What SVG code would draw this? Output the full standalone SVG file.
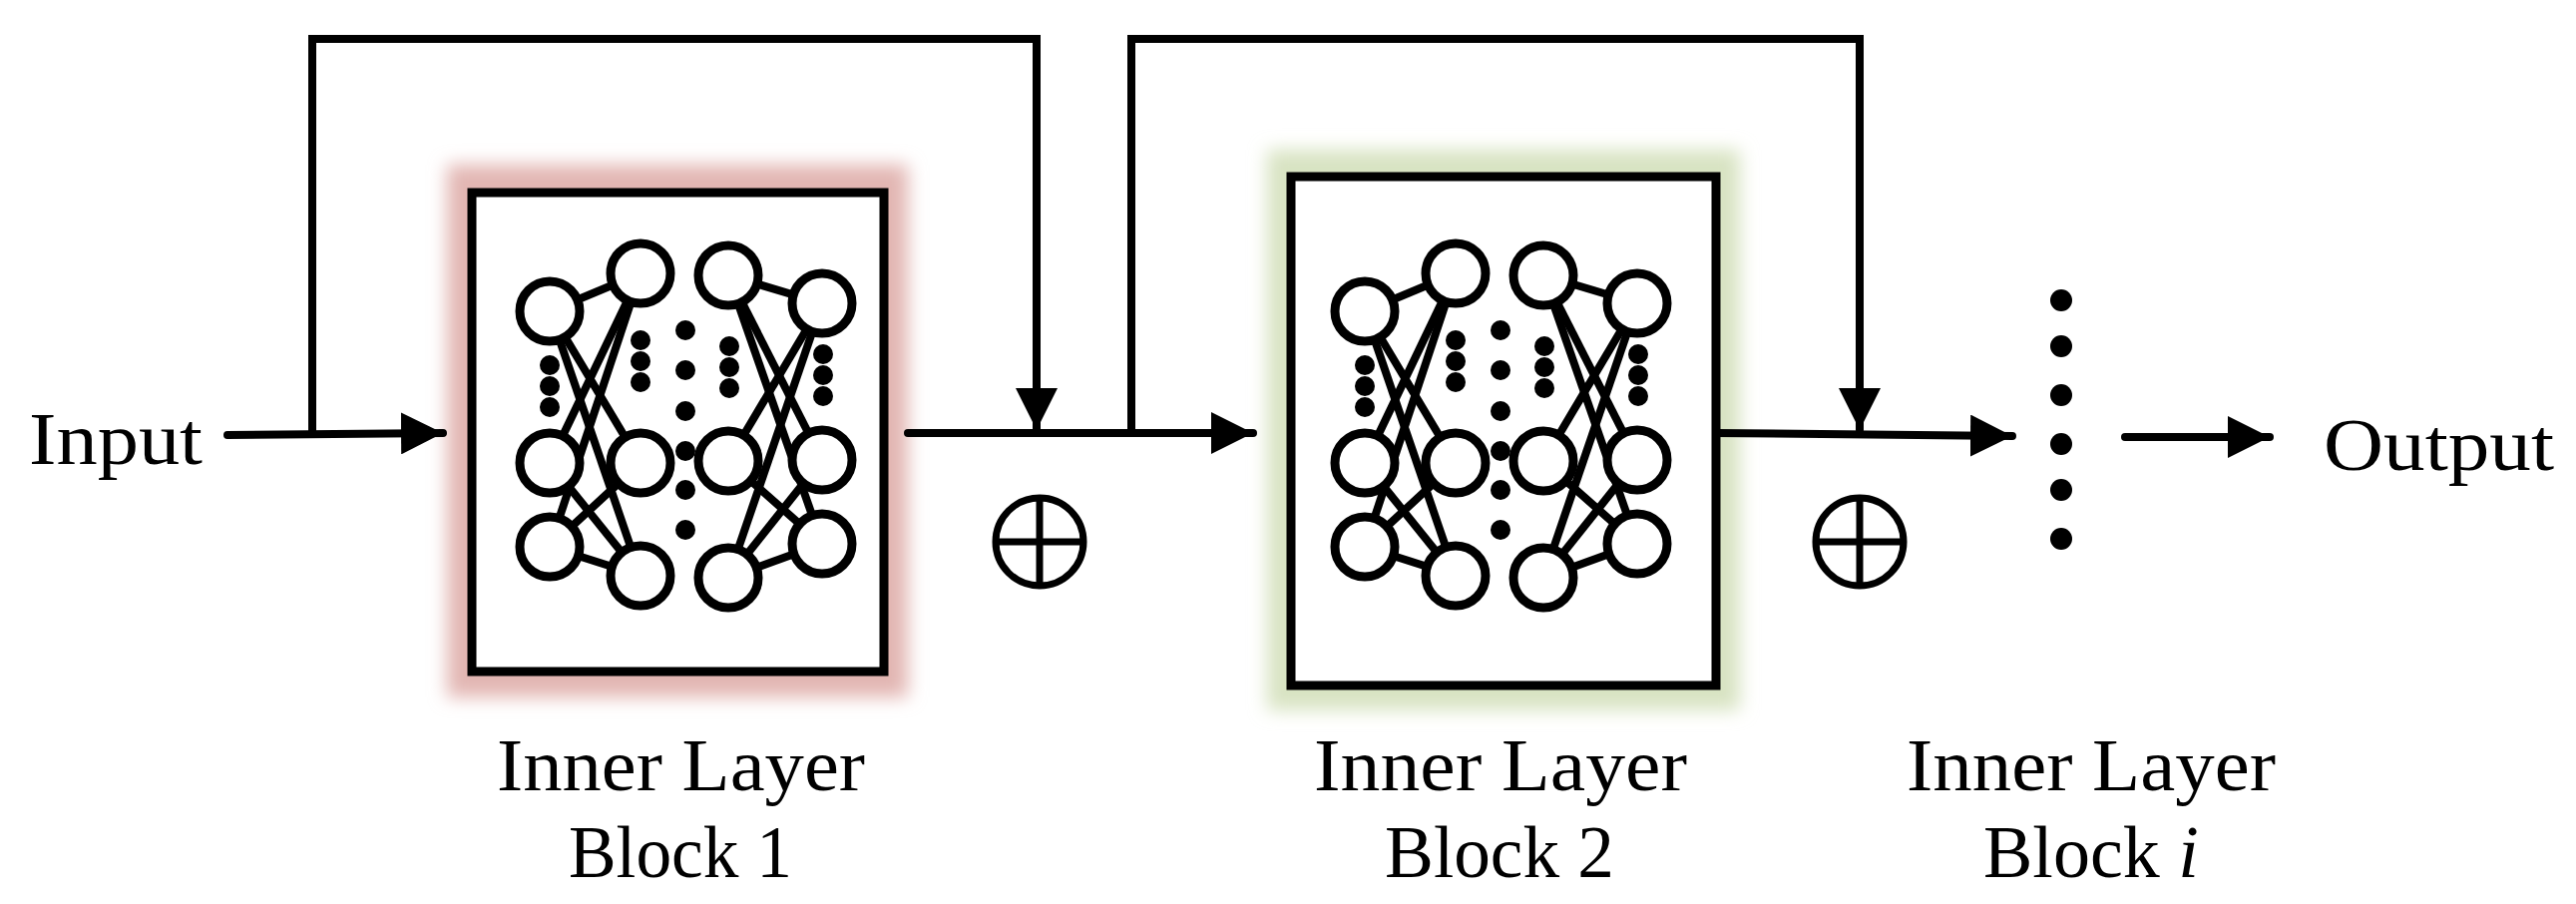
<svg xmlns="http://www.w3.org/2000/svg" xmlns:xlink="http://www.w3.org/1999/xlink" width="2582" height="906" viewBox="0 0 2582 906">
<style>
.ln{stroke:#000;stroke-width:8;fill:none;stroke-linecap:round}
.nl{stroke:#000;stroke-width:8;fill:none}
.nc{stroke:#000;stroke-width:9;fill:#fff}
.box{stroke:#000;stroke-width:9;fill:#fff}
.t{font-family:"Liberation Serif","Times New Roman",serif;font-size:74px;fill:#000}
</style>
<defs>
<filter id="blur" x="-20%" y="-20%" width="140%" height="140%"><feGaussianBlur stdDeviation="9"/></filter>
<marker id="ah" viewBox="0 0 10 10" refX="10" refY="5" markerWidth="42" markerHeight="42" markerUnits="userSpaceOnUse" orient="auto"><path d="M0,0 L10,5 L0,10 Z" fill="#000"/></marker>
<g id="net">
<line class="nl" x1="551" y1="312" x2="642" y2="274"/>
<line class="nl" x1="551" y1="312" x2="642" y2="577"/>
<line class="nl" x1="642" y1="274" x2="551" y2="548"/>
<line class="nl" x1="551" y1="548" x2="642" y2="577"/>
<line class="nl" x1="551" y1="312" x2="642" y2="464"/>
<line class="nl" x1="642" y1="274" x2="551" y2="464"/>
<line class="nl" x1="551" y1="464" x2="642" y2="577"/>
<line class="nl" x1="642" y1="464" x2="551" y2="548"/>
<line class="nl" x1="730" y1="276" x2="824" y2="304"/>
<line class="nl" x1="730" y1="276" x2="824" y2="545"/>
<line class="nl" x1="824" y1="304" x2="730" y2="579"/>
<line class="nl" x1="730" y1="579" x2="824" y2="545"/>
<line class="nl" x1="730" y1="276" x2="824" y2="461"/>
<line class="nl" x1="824" y1="304" x2="730" y2="462"/>
<line class="nl" x1="730" y1="462" x2="824" y2="545"/>
<line class="nl" x1="824" y1="461" x2="730" y2="579"/>
<g fill="#000">
<circle cx="551" cy="366" r="10"/><circle cx="551" cy="387" r="10"/><circle cx="551" cy="408" r="10"/>
<circle cx="642" cy="341" r="10"/><circle cx="642" cy="362" r="10"/><circle cx="642" cy="383" r="10"/>
<circle cx="687" cy="331" r="10"/><circle cx="687" cy="371" r="10"/><circle cx="687" cy="412" r="10"/><circle cx="687" cy="452" r="10"/><circle cx="687" cy="491" r="10"/><circle cx="687" cy="531" r="10"/>
<circle cx="731" cy="347" r="10"/><circle cx="731" cy="368" r="10"/><circle cx="731" cy="389" r="10"/>
<circle cx="825" cy="355" r="10"/><circle cx="825" cy="376" r="10"/><circle cx="825" cy="397" r="10"/>
</g>
<circle class="nc" cx="551" cy="312" r="30"/><circle class="nc" cx="551" cy="464" r="30"/><circle class="nc" cx="551" cy="548" r="30"/>
<circle class="nc" cx="642" cy="274" r="30"/><circle class="nc" cx="642" cy="464" r="30"/><circle class="nc" cx="642" cy="577" r="30"/>
<circle class="nc" cx="730" cy="276" r="30"/><circle class="nc" cx="730" cy="462" r="30"/><circle class="nc" cx="730" cy="579" r="30"/>
<circle class="nc" cx="824" cy="304" r="30"/><circle class="nc" cx="824" cy="461" r="30"/><circle class="nc" cx="824" cy="545" r="30"/>
</g>
<g id="oplus"><circle r="44" fill="#fff" stroke="#000" stroke-width="7"/><line x1="-44" y1="0" x2="44" y2="0" stroke="#000" stroke-width="7"/><line x1="0" y1="-44" x2="0" y2="44" stroke="#000" stroke-width="7"/></g>
</defs>

<g id="block1">
<rect x="448" y="165" width="462" height="534" fill="#e2b6b2" filter="url(#blur)"/>
<rect class="box" x="473" y="193" width="413" height="480"/>
<use xlink:href="#net"/>
</g>
<g id="block2">
<rect x="1270" y="150" width="474" height="562" fill="#d8e3c2" filter="url(#blur)"/>
<rect class="box" x="1294" y="177" width="426" height="510"/>
<use xlink:href="#net" transform="translate(817,0)"/>
</g>
<g id="sum1"><use xlink:href="#oplus" x="1042" y="543"/></g>
<g id="sum2"><use xlink:href="#oplus" x="1864" y="543"/></g>
<g id="blocki" fill="#000">
<circle cx="2066" cy="301" r="11"/><circle cx="2066" cy="347" r="11"/><circle cx="2066" cy="396" r="11"/><circle cx="2066" cy="445" r="11"/><circle cx="2066" cy="491" r="11"/><circle cx="2066" cy="540" r="11"/>
</g>

<g id="connectors">
<line class="ln" x1="228" y1="436" x2="444" y2="434" marker-end="url(#ah)"/>
<polyline class="ln" points="313,435 313,39 1039,39 1039,431" marker-end="url(#ah)"/>
<line class="ln" x1="910" y1="434" x2="1256" y2="434" marker-end="url(#ah)"/>
<polyline class="ln" points="1134,433 1134,39 1864,39 1864,431" marker-end="url(#ah)"/>
<line class="ln" x1="1720" y1="434" x2="2017" y2="437" marker-end="url(#ah)"/>
<line class="ln" x1="2130" y1="438" x2="2275" y2="438" marker-end="url(#ah)"/>
</g>

<g id="labels">
<text class="t" x="29" y="465" textLength="174" lengthAdjust="spacingAndGlyphs">Input</text>
<text class="t" x="2329" y="471" textLength="231" lengthAdjust="spacingAndGlyphs">Output</text>
<text class="t" x="498" y="792" textLength="369" lengthAdjust="spacingAndGlyphs">Inner Layer</text>
<text class="t" x="570" y="879" textLength="224" lengthAdjust="spacingAndGlyphs">Block 1</text>
<text class="t" x="1317" y="792" textLength="374" lengthAdjust="spacingAndGlyphs">Inner Layer</text>
<text class="t" x="1388" y="879" textLength="230" lengthAdjust="spacingAndGlyphs">Block 2</text>
<text class="t" x="1911" y="792" textLength="370" lengthAdjust="spacingAndGlyphs">Inner Layer</text>
<text class="t" x="1988" y="879">Block <tspan font-style="italic">i</tspan></text>
</g>
</svg>
